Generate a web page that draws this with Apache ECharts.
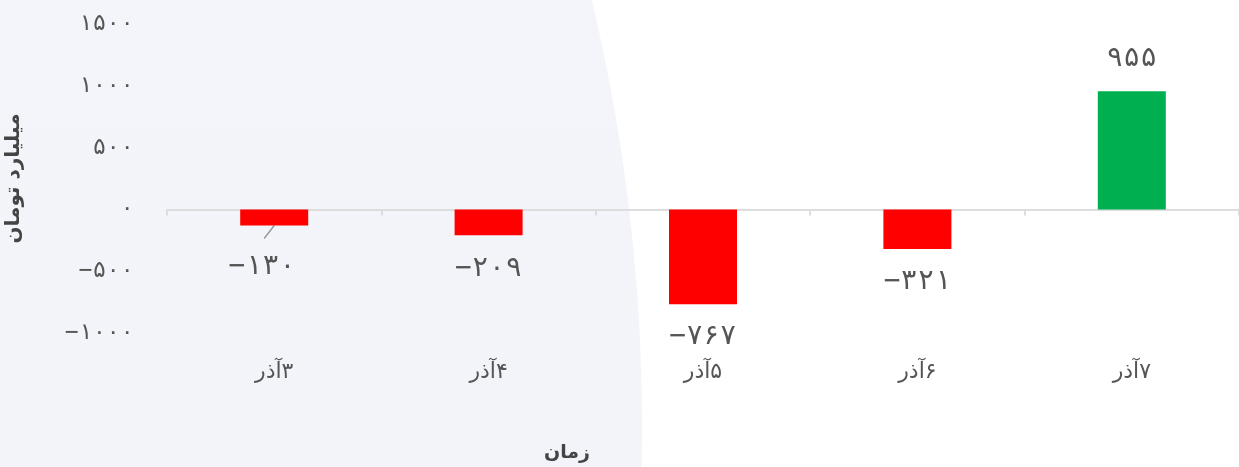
<!DOCTYPE html>
<html lang="fa" dir="rtl">
<head>
<meta charset="utf-8">
<script src="https://cdn.jsdelivr.net/npm/echarts@6/dist/echarts.min.js"></script>
<style>
  html, body { margin: 0; padding: 0; background: #ffffff; }
  #chart { width: 1239px; height: 467px; }
</style>
</head>
<body>
<div id="chart" dir="rtl"></div>
<script>
// Daily net flow, in billion tomans
const days = ['۳آذر', '۴آذر', '۵آذر', '۶آذر', '۷آذر'];
const netFlow = [-130, -209, -767, -321, 955];
const yTicks = [-1000, -500, 0, 500, 1000, 1500];

const yAxisTitle = 'میلیارد تومان';
const xAxisTitle = 'زمان';

const POS_COLOR = '#00b050';
const NEG_COLOR = '#ff0000';
const FONT = "'DejaVu Sans', sans-serif";
const NUM_FONT = "'DejaVu Sans Mono', 'DejaVu Sans', monospace";

// Persian digits; negative numbers keep the minus on the left
function toFa(n) {
  const digits = '۰۱۲۳۴۵۶۷۸۹';
  const s = String(Math.abs(n)).replace(/\d/g, d => digits[d]);
  return n < 0 ? '\u200E\u2212' + s : s;
}

const chart = echarts.init(document.getElementById('chart'), null, { renderer: 'canvas' });

chart.setOption({
  backgroundColor: 'transparent',
  animation: false,
  graphic: [{
    type: 'circle',
    z: -10,
    silent: true,
    shape: { cx: -1180, cy: 425, r: 1822 },
    style: {
      fill: {
        type: 'linear', x: 0, y: 0, x2: 0, y2: 1,
        colorStops: [
          { offset: 0, color: '#f6f7fb' },
          { offset: 1, color: '#eef1f8' }
        ]
      }
    }
  }],
  grid: { left: 167, right: 0, top: 24, bottom: 134, outerBoundsMode: 'none', containLabel: false },
  xAxis: {
    type: 'category',
    data: days,
    name: xAxisTitle,
    nameLocation: 'middle',
    nameGap: 111,
    nameTextStyle: {
      color: '#444', fontSize: 19, fontWeight: 'bold', fontFamily: FONT,
      padding: [0, 272, 0, 0]
    },
    axisLine: { onZero: true, lineStyle: { color: '#dddddd', width: 2 } },
    axisTick: { show: true, length: 6, lineStyle: { color: '#dddddd', width: 2 } },
    axisLabel: { margin: 28, color: '#555', fontSize: 22, fontFamily: FONT },
    splitLine: { show: false }
  },
  yAxis: {
    type: 'value',
    min: yTicks[0],
    max: yTicks[yTicks.length - 1],
    interval: 500,
    name: yAxisTitle,
    nameLocation: 'middle',
    nameRotate: 90,
    nameGap: 143,
    nameTextStyle: { color: '#444', fontSize: 20, fontWeight: 'bold', fontFamily: FONT },
    axisLine: { show: false },
    axisTick: { show: false },
    splitLine: { show: false },
    axisLabel: {
      margin: 33, color: '#555', fontSize: 23, fontFamily: NUM_FONT,
      formatter: v => toFa(v)
    }
  },
  series: [{
    type: 'bar',
    barWidth: 68,
    data: netFlow.map(v => ({
      value: v,
      itemStyle: { color: v < 0 ? NEG_COLOR : POS_COLOR },
      label: { position: v < 0 ? 'bottom' : 'top' }
    })),
    label: {
      show: true,
      distance: 19,
      color: '#555',
      fontSize: 28,
      fontFamily: NUM_FONT,
      formatter: p => toFa(p.value)
    },
    labelLine: { show: false },
    // the first label is nudged aside
    labelLayout: p => (p.dataIndex === 0 ? { dx: -12, dy: 8 } : {})
  }, {
    // short leader tying the nudged first label back to its bar
    type: 'custom',
    silent: true,
    data: [[0, netFlow[0]]],
    renderItem: (params, api) => {
      const p = api.coord([api.value(0), api.value(1)]);
      return {
        type: 'line',
        shape: { x1: p[0], y1: p[1], x2: p[0] - 10, y2: p[1] + 13 },
        style: { stroke: '#9a9a9a', lineWidth: 1.5 }
      };
    }
  }]
});
</script>
</body>
</html>
